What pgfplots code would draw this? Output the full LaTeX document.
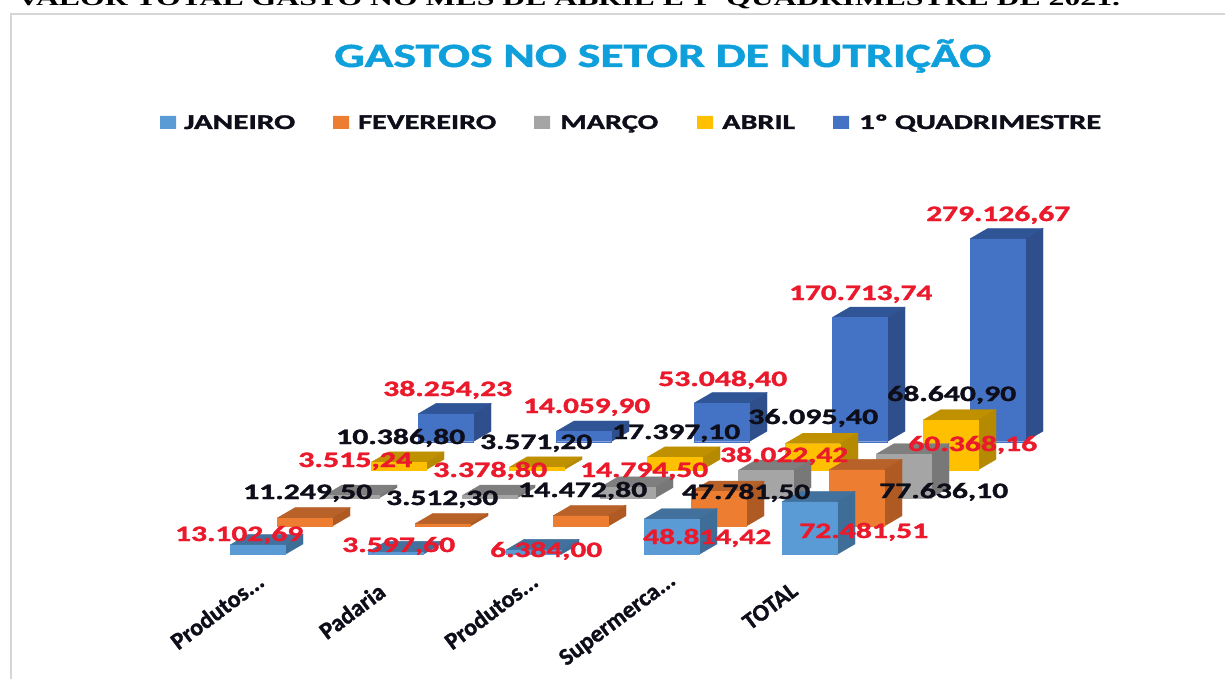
\documentclass[border=0pt]{standalone}
\usepackage{fontspec}
\usepackage{graphicx}
\usepackage{pgfplots}
\pgfplotsset{compat=1.18}
\setmainfont[BoldFeatures={FakeBold=1.3}]{Carlito}
\newfontfamily\headfont{Liberation Serif}
\definecolor{janF}{HTML}{5B9BD5}\definecolor{janT}{HTML}{41719C}\definecolor{janS}{HTML}{3E6E98}
\definecolor{febF}{HTML}{ED7D31}\definecolor{febT}{HTML}{B8622A}\definecolor{febS}{HTML}{AE5A22}
\definecolor{marF}{HTML}{A5A5A5}\definecolor{marT}{HTML}{7F7F7F}\definecolor{marS}{HTML}{787878}
\definecolor{aprF}{HTML}{FFC000}\definecolor{aprT}{HTML}{BF9000}\definecolor{aprS}{HTML}{B58A00}
\definecolor{quaF}{HTML}{4472C4}\definecolor{quaT}{HTML}{2F5597}\definecolor{quaS}{HTML}{2E4F8C}
\definecolor{labR}{HTML}{EA1A2C}\definecolor{labK}{HTML}{0E0E1A}\definecolor{titleC}{HTML}{0FA0DC}
% #1 category index, #2 series index, #3 value, #4 series colour prefix
\newcommand\cub[4]{%
  \begingroup\pgfkeys{/pgf/fpu,/pgf/fpu/output format=fixed}%
  \pgfmathparse{#3*0.000727}\global\let\hh\pgfmathresult\endgroup
  \pgfmathsetmacro\xl{230+138*#1+47*#2}%
  \pgfmathsetmacro\xr{\xl+55}%
  \pgfmathsetmacro\xb{\xr+18}%
  \pgfmathsetmacro\xc{\xl+18}%
  \pgfmathsetmacro\yb{554.5-28.2*#2}%
  \pgfmathsetmacro\yt{\yb-\hh}%
  \pgfmathsetmacro\ybb{\yb-10.5}%
  \pgfmathsetmacro\ytb{\yt-10.5}%
  \addplot[fill=#4T,draw=#4T,line width=.3pt] coordinates {(\xl,\yt)(\xr,\yt)(\xb,\ytb)(\xc,\ytb)(\xl,\yt)};
  \addplot[fill=#4S,draw=#4S,line width=.3pt] coordinates {(\xr,\yb)(\xb,\ybb)(\xb,\ytb)(\xr,\yt)(\xr,\yb)};
  \addplot[fill=#4F,draw=#4F,line width=.3pt] coordinates {(\xl,\yb)(\xr,\yb)(\xr,\yt)(\xl,\yt)(\xl,\yb)};
}
% left x, baseline y, width, colour, text
\newcommand\lab[5]{\node[anchor=base west,inner sep=0pt,text=#4] at (axis cs:#1,#2)
  {\resizebox{#3pt}{\height}{\fontsize{22}{22}\selectfont\bfseries #5}};}
\newcommand\leg[5]{%
  \addplot[fill=#4F,draw=none] coordinates {(#1,116)(#1+16,116)(#1+16,129)(#1,129)(#1,116)};
  \node[anchor=base west,inner sep=0pt,text=labK] at (axis cs:#2,129)
  {\resizebox{#3pt}{\height}{\fontsize{21}{21}\selectfont\bfseries #5}};}
\newcommand\cat[3]{\node[rotate=37,inner sep=0pt,text=labK,font=\fontsize{24}{24}\selectfont\bfseries] at (axis cs:#1,#2) {#3};}
\begin{document}
\begin{tikzpicture}
\path[use as bounding box,clip] (0,0) rectangle (1225pt,679pt);
\begin{axis}[at={(0,0)},anchor=south west,scale only axis,width=1225pt,height=679pt,
  xmin=0,xmax=1225,ymin=0,ymax=679,y dir=reverse,hide axis,clip=false]
% frame
\addplot[draw=black!16,line width=2.5pt] coordinates {(11,679)(11,14)(1225,14)};
% 1º quadrimestre
\cub{0}{4}{38254.23}{qua}\cub{1}{4}{14059.90}{qua}\cub{2}{4}{53048.40}{qua}\cub{3}{4}{170713.74}{qua}\cub{4}{4}{279126.67}{qua}
% abril
\cub{0}{3}{10386.80}{apr}\cub{1}{3}{3571.20}{apr}\cub{2}{3}{17397.10}{apr}\cub{3}{3}{36095.40}{apr}\cub{4}{3}{68640.90}{apr}
% março
\cub{0}{2}{3515.24}{mar}\cub{1}{2}{3378.80}{mar}\cub{2}{2}{14794.50}{mar}\cub{3}{2}{38022.42}{mar}\cub{4}{2}{60368.16}{mar}
% fevereiro
\cub{0}{1}{11249.50}{feb}\cub{1}{1}{3512.30}{feb}\cub{2}{1}{14472.80}{feb}\cub{3}{1}{47781.50}{feb}\cub{4}{1}{77636.10}{feb}
% janeiro
\cub{0}{0}{13102.69}{jan}\cub{1}{0}{3597.60}{jan}\cub{2}{0}{6384.00}{jan}\cub{3}{0}{48814.42}{jan}\cub{4}{0}{72481.51}{jan}
% heading, title
\node[anchor=base west,inner sep=0pt] at (axis cs:17,5.5)
  {\resizebox{1103pt}{\height}{\fontsize{21}{21}\selectfont\headfont\bfseries VALOR TOTAL GASTO NO MÊS DE ABRIL E 1º QUADRIMESTRE DE 2021.}};
\node[anchor=base west,inner sep=0pt,text=titleC] at (axis cs:334,67)
  {\resizebox{657pt}{\height}{\fontsize{34}{34}\selectfont\bfseries GASTOS NO SETOR DE NUTRIÇÃO}};
% legend
\leg{160}{184}{111}{jan}{JANEIRO}
\leg{333}{358}{138}{feb}{FEVEREIRO}
\leg{534}{560}{98}{mar}{MARÇO}
\leg{697}{722}{73}{apr}{ABRIL}
\leg{833}{859}{242}{qua}{1º QUADRIMESTRE}
% data labels
\lab{175}{541}{128}{labR}{13.102,69}
\lab{342}{552}{113}{labR}{3.597,60}
\lab{490}{557}{112}{labR}{6.384,00}
\lab{643}{544}{128}{labR}{48.814,42}
\lab{799}{538}{129}{labR}{72.481,51}
\lab{243}{499}{129}{labK}{11.249,50}
\lab{386}{505}{112}{labK}{3.512,30}
\lab{518}{497}{129}{labK}{14.472,80}
\lab{682}{499}{128}{labK}{47.781,50}
\lab{879}{498}{129}{labK}{77.636,10}
\lab{298}{467}{114}{labR}{3.515,24}
\lab{433}{477}{114}{labR}{3.378,80}
\lab{580}{477}{128}{labR}{14.794,50}
\lab{720}{462}{128}{labR}{38.022,42}
\lab{908}{451}{129}{labR}{60.368,16}
\lab{336}{444}{129}{labK}{10.386,80}
\lab{480}{449}{112}{labK}{3.571,20}
\lab{612}{439}{128}{labK}{17.397,10}
\lab{748}{424}{130}{labK}{36.095,40}
\lab{887}{401}{129}{labK}{68.640,90}
\lab{383}{396}{129}{labR}{38.254,23}
\lab{523}{413}{127}{labR}{14.059,90}
\lab{658}{386}{129}{labR}{53.048,40}
\lab{789}{300}{143}{labR}{170.713,74}
\lab{926}{221}{144}{labR}{279.126,67}
% category labels
\cat{217}{611}{Produtos...}
\cat{352}{611}{Padaria}
\cat{491}{611}{Produtos...}
\cat{618}{620}{Supermerca...}
\cat{770}{606}{TOTAL}
\end{axis}
\end{tikzpicture}
\end{document}
